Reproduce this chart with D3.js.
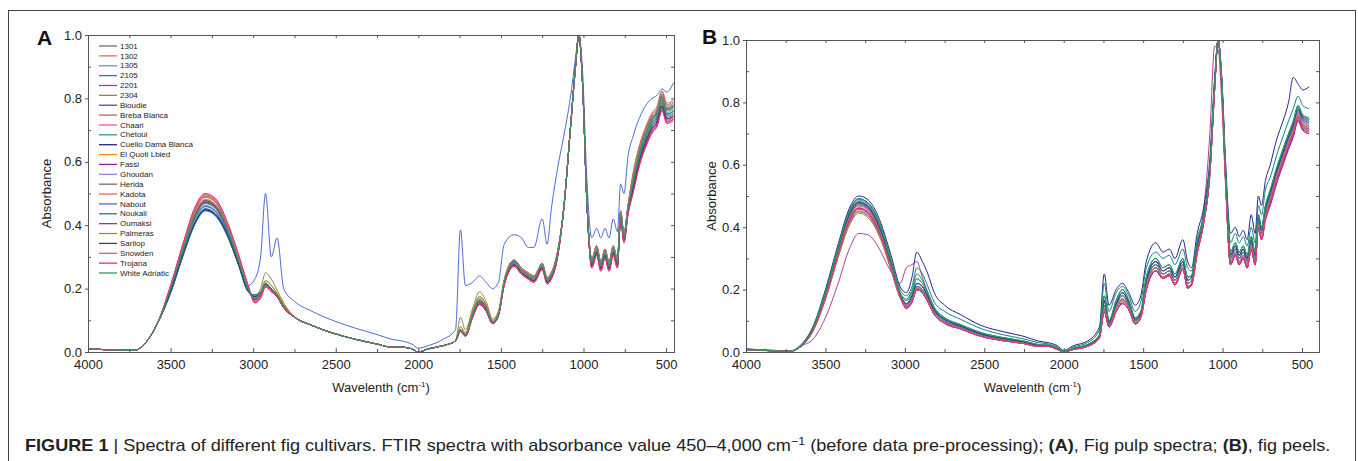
<!DOCTYPE html>
<html><head><meta charset="utf-8">
<script src="https://cdn.jsdelivr.net/npm/d3@7"></script>
<style>
body{margin:0;background:#fff;}
svg{display:block;font-family:"Liberation Sans",Arial,Helvetica,sans-serif;}
</style></head>
<body><svg id="chart" width="1358" height="461"></svg>
<script>
// ---------- DATA ----------
const wavenumbers = [4000,3720,3650,3580,3500,3420,3350,3290,3230,3160,3090,3030,2990,2955,2925,2890,2855,2815,2750,2650,2520,2380,2250,2160,2100,2040,2000,1940,1850,1775,1745,1715,1670,1630,1590,1550,1515,1480,1420,1375,1335,1300,1250,1220,1195,1160,1120,1080,1050,1028,1005,980,950,920,895,870,845,820,795,775,755,730,700,660,620,585,555,525,495,455];
const cultivars = ["1301","1302","1305","2105","2201","2304","Bioudie","Breba Blanca","Chaari","Chetoui","Cuello Dama Blanca","El Quoti Lbied","Fassi","Ghoudan","Herida","Kadota","Nabout","Noukali","Oumaksi","Palmeras","Sarilop","Snowden","Trojana","White Adriatic"];
const seriesColors = ["#6e6e6e","#f06464","#6f8fdc","#1f8a8a","#a8409a","#8c8a4e","#4c4c9c","#a86a6a","#ff4fb8","#2fa070","#22228f","#ff8a00","#8e2290","#9482e0","#6a6a6a","#ff6060","#4a6ad8","#138080","#a03586","#8a9440","#3c3c7c","#a87474","#f0287e","#27a05e"];
const wavenumberTicks = [4000,3500,3000,2500,2000,1500,1000,500];
const absorbanceTicks = [0.0,0.2,0.4,0.6,0.8,1.0];

// Panel A: fig pulp spectra
const pulp1301 = [0.01,0.005,0.03,0.09,0.195,0.32,0.42,0.46,0.445,0.38,0.285,0.195,0.17,0.185,0.215,0.20,0.18,0.145,0.11,0.085,0.06,0.04,0.025,0.015,0.015,0.01,0.0,0.01,0.02,0.035,0.07,0.055,0.12,0.16,0.14,0.095,0.12,0.22,0.285,0.26,0.245,0.235,0.275,0.23,0.245,0.305,0.45,0.70,0.89,1.0,0.84,0.48,0.285,0.325,0.275,0.315,0.275,0.325,0.285,0.435,0.365,0.455,0.54,0.63,0.69,0.73,0.75,0.80,0.76,0.77];
const pulp1302 = [0.01,0.005,0.03,0.09,0.207,0.347,0.452,0.492,0.477,0.407,0.302,0.206,0.16,0.175,0.21,0.195,0.18,0.145,0.11,0.085,0.06,0.04,0.025,0.015,0.015,0.01,0.0,0.01,0.02,0.035,0.07,0.055,0.13,0.17,0.15,0.095,0.12,0.225,0.29,0.265,0.25,0.24,0.28,0.235,0.25,0.31,0.45,0.70,0.89,1.0,0.84,0.48,0.295,0.335,0.285,0.325,0.285,0.335,0.295,0.445,0.375,0.465,0.565,0.655,0.715,0.755,0.775,0.825,0.785,0.795];
const pulp1305 = [0.01,0.005,0.03,0.09,0.193,0.318,0.418,0.458,0.443,0.378,0.283,0.194,0.17,0.185,0.215,0.20,0.18,0.145,0.11,0.085,0.06,0.04,0.025,0.015,0.015,0.01,0.0,0.01,0.02,0.035,0.07,0.055,0.12,0.16,0.14,0.095,0.12,0.22,0.285,0.26,0.245,0.235,0.275,0.23,0.245,0.305,0.45,0.70,0.89,1.0,0.84,0.48,0.285,0.325,0.275,0.315,0.275,0.325,0.285,0.435,0.365,0.455,0.535,0.625,0.685,0.725,0.745,0.795,0.755,0.765];
const pulp2105 = [0.01,0.005,0.03,0.09,0.188,0.313,0.408,0.448,0.433,0.373,0.279,0.194,0.175,0.185,0.21,0.195,0.175,0.14,0.11,0.085,0.06,0.04,0.025,0.015,0.015,0.01,0.0,0.01,0.02,0.035,0.065,0.05,0.115,0.15,0.13,0.09,0.115,0.215,0.275,0.25,0.235,0.225,0.265,0.22,0.235,0.295,0.45,0.70,0.89,1.0,0.84,0.48,0.275,0.315,0.265,0.305,0.265,0.315,0.275,0.425,0.355,0.445,0.525,0.615,0.675,0.715,0.735,0.785,0.745,0.755];
const pulp2201 = [0.01,0.005,0.03,0.09,0.20,0.335,0.435,0.475,0.46,0.395,0.29,0.20,0.165,0.18,0.21,0.195,0.175,0.14,0.11,0.085,0.06,0.04,0.025,0.015,0.015,0.01,0.0,0.01,0.02,0.035,0.07,0.055,0.115,0.155,0.135,0.09,0.115,0.215,0.275,0.25,0.235,0.225,0.265,0.22,0.235,0.295,0.45,0.70,0.89,1.0,0.84,0.48,0.27,0.31,0.26,0.30,0.26,0.31,0.27,0.42,0.35,0.44,0.51,0.60,0.66,0.70,0.72,0.77,0.73,0.74];
const pulp2304 = [0.01,0.005,0.03,0.09,0.198,0.333,0.438,0.478,0.463,0.398,0.293,0.20,0.175,0.20,0.25,0.23,0.195,0.155,0.11,0.085,0.06,0.04,0.025,0.015,0.015,0.01,0.0,0.01,0.02,0.035,0.11,0.07,0.14,0.19,0.16,0.105,0.13,0.23,0.29,0.26,0.245,0.235,0.275,0.23,0.245,0.305,0.45,0.70,0.89,1.0,0.84,0.48,0.29,0.33,0.28,0.32,0.28,0.33,0.29,0.44,0.37,0.46,0.55,0.64,0.70,0.74,0.76,0.81,0.77,0.78];
const pulpBioudie = [0.01,0.005,0.03,0.09,0.19,0.315,0.41,0.45,0.435,0.375,0.28,0.195,0.175,0.185,0.21,0.195,0.175,0.14,0.11,0.085,0.06,0.04,0.025,0.015,0.015,0.01,0.0,0.01,0.02,0.035,0.065,0.05,0.115,0.15,0.13,0.09,0.115,0.215,0.275,0.25,0.235,0.225,0.265,0.22,0.235,0.295,0.45,0.70,0.89,1.0,0.84,0.48,0.275,0.315,0.265,0.305,0.265,0.315,0.275,0.425,0.355,0.445,0.52,0.61,0.67,0.71,0.73,0.78,0.74,0.75];
const pulpBrebaBlanca = [0.01,0.005,0.03,0.09,0.203,0.343,0.448,0.488,0.473,0.403,0.299,0.204,0.16,0.175,0.21,0.195,0.18,0.145,0.11,0.085,0.06,0.04,0.025,0.015,0.015,0.01,0.0,0.01,0.02,0.035,0.07,0.055,0.125,0.165,0.145,0.095,0.12,0.225,0.29,0.265,0.25,0.24,0.28,0.235,0.25,0.31,0.45,0.70,0.89,1.0,0.84,0.48,0.295,0.335,0.285,0.325,0.285,0.335,0.295,0.445,0.375,0.465,0.555,0.645,0.705,0.745,0.765,0.815,0.775,0.785];
const pulpChaari = [0.01,0.005,0.03,0.09,0.205,0.345,0.455,0.495,0.48,0.41,0.305,0.205,0.158,0.172,0.207,0.192,0.176,0.141,0.11,0.085,0.06,0.04,0.025,0.015,0.015,0.01,0.0,0.01,0.02,0.035,0.065,0.05,0.11,0.15,0.13,0.09,0.115,0.21,0.27,0.245,0.23,0.22,0.26,0.215,0.23,0.29,0.45,0.70,0.89,1.0,0.84,0.48,0.265,0.305,0.255,0.295,0.255,0.305,0.265,0.415,0.345,0.435,0.505,0.595,0.655,0.695,0.715,0.765,0.725,0.735];
const pulpChetoui = [0.01,0.005,0.03,0.09,0.20,0.33,0.432,0.472,0.458,0.39,0.29,0.20,0.17,0.185,0.215,0.20,0.18,0.145,0.11,0.085,0.06,0.04,0.025,0.015,0.015,0.01,0.0,0.01,0.02,0.035,0.07,0.055,0.12,0.165,0.14,0.095,0.12,0.22,0.28,0.255,0.24,0.23,0.27,0.225,0.24,0.30,0.45,0.70,0.89,1.0,0.84,0.48,0.28,0.32,0.27,0.31,0.27,0.32,0.28,0.43,0.36,0.45,0.53,0.62,0.68,0.72,0.74,0.785,0.75,0.76];
const pulpCuelloDamaBlanca = [0.01,0.005,0.03,0.09,0.187,0.312,0.408,0.448,0.433,0.372,0.277,0.19,0.18,0.19,0.215,0.20,0.18,0.145,0.11,0.085,0.06,0.04,0.025,0.015,0.015,0.01,0.0,0.01,0.02,0.035,0.07,0.055,0.12,0.16,0.14,0.095,0.12,0.22,0.285,0.26,0.245,0.235,0.275,0.23,0.245,0.305,0.45,0.70,0.89,1.0,0.84,0.48,0.29,0.33,0.28,0.32,0.28,0.33,0.29,0.44,0.37,0.46,0.545,0.635,0.695,0.735,0.755,0.805,0.765,0.775];
const pulpElQuotiLbied = [0.01,0.005,0.03,0.09,0.202,0.337,0.442,0.482,0.467,0.402,0.297,0.20,0.17,0.19,0.225,0.21,0.185,0.15,0.11,0.085,0.06,0.04,0.025,0.015,0.015,0.01,0.0,0.01,0.02,0.035,0.08,0.06,0.13,0.175,0.15,0.10,0.125,0.225,0.29,0.26,0.245,0.235,0.275,0.23,0.245,0.305,0.45,0.70,0.89,1.0,0.84,0.48,0.29,0.33,0.28,0.32,0.28,0.33,0.29,0.44,0.37,0.46,0.545,0.635,0.695,0.735,0.755,0.805,0.765,0.775];
const pulpFassi = [0.01,0.005,0.03,0.09,0.198,0.333,0.433,0.473,0.458,0.393,0.289,0.20,0.165,0.18,0.21,0.195,0.175,0.14,0.11,0.085,0.06,0.04,0.025,0.015,0.015,0.01,0.0,0.01,0.02,0.035,0.07,0.055,0.115,0.155,0.135,0.09,0.115,0.215,0.275,0.25,0.235,0.225,0.265,0.22,0.235,0.295,0.45,0.70,0.89,1.0,0.84,0.48,0.27,0.31,0.26,0.30,0.26,0.31,0.27,0.42,0.35,0.44,0.515,0.605,0.665,0.705,0.725,0.775,0.735,0.745];
const pulpGhoudan = [0.01,0.005,0.03,0.09,0.197,0.322,0.422,0.462,0.447,0.382,0.286,0.196,0.17,0.185,0.215,0.20,0.18,0.145,0.11,0.085,0.06,0.04,0.025,0.015,0.015,0.01,0.0,0.01,0.02,0.035,0.07,0.055,0.12,0.16,0.14,0.095,0.12,0.22,0.285,0.26,0.245,0.235,0.275,0.23,0.245,0.305,0.45,0.70,0.89,1.0,0.84,0.48,0.285,0.325,0.275,0.315,0.275,0.325,0.285,0.435,0.365,0.455,0.545,0.635,0.695,0.735,0.755,0.805,0.765,0.775];
const pulpHerida = [0.01,0.005,0.03,0.09,0.20,0.33,0.43,0.47,0.455,0.39,0.29,0.20,0.17,0.185,0.215,0.20,0.18,0.145,0.11,0.085,0.06,0.04,0.025,0.015,0.015,0.01,0.0,0.01,0.02,0.035,0.07,0.055,0.12,0.16,0.14,0.095,0.12,0.22,0.28,0.255,0.24,0.23,0.27,0.225,0.24,0.30,0.45,0.70,0.89,1.0,0.84,0.48,0.28,0.32,0.27,0.31,0.27,0.32,0.28,0.43,0.36,0.45,0.53,0.62,0.68,0.72,0.74,0.79,0.75,0.76];
const pulpKadota = [0.01,0.005,0.03,0.09,0.21,0.348,0.458,0.497,0.483,0.413,0.308,0.21,0.155,0.17,0.205,0.19,0.175,0.14,0.11,0.085,0.06,0.04,0.025,0.015,0.015,0.01,0.0,0.01,0.02,0.035,0.065,0.05,0.115,0.155,0.135,0.09,0.115,0.21,0.27,0.245,0.23,0.22,0.26,0.215,0.23,0.29,0.45,0.70,0.89,1.0,0.84,0.48,0.27,0.31,0.26,0.30,0.26,0.31,0.27,0.42,0.35,0.44,0.51,0.60,0.66,0.70,0.72,0.77,0.73,0.74];
const pulpNabout = [0.01,0.005,0.03,0.09,0.20,0.33,0.425,0.46,0.445,0.385,0.29,0.21,0.23,0.30,0.50,0.30,0.36,0.20,0.16,0.13,0.10,0.075,0.055,0.04,0.035,0.025,0.012,0.02,0.04,0.07,0.385,0.21,0.22,0.24,0.22,0.20,0.22,0.34,0.37,0.36,0.33,0.33,0.42,0.34,0.45,0.57,0.68,0.80,0.92,1.0,0.88,0.55,0.36,0.39,0.36,0.39,0.36,0.42,0.38,0.53,0.50,0.62,0.68,0.74,0.78,0.80,0.81,0.83,0.82,0.85];
const pulpNoukali = [0.01,0.005,0.03,0.09,0.185,0.31,0.405,0.445,0.43,0.37,0.275,0.19,0.18,0.19,0.215,0.20,0.18,0.145,0.11,0.085,0.06,0.04,0.025,0.015,0.015,0.01,0.0,0.01,0.02,0.035,0.07,0.055,0.12,0.16,0.14,0.095,0.12,0.22,0.285,0.26,0.245,0.235,0.275,0.23,0.245,0.305,0.45,0.70,0.89,1.0,0.84,0.48,0.29,0.33,0.28,0.32,0.28,0.33,0.29,0.44,0.37,0.46,0.545,0.635,0.695,0.735,0.755,0.805,0.765,0.775];
const pulpOumaksi = [0.01,0.005,0.03,0.09,0.202,0.337,0.438,0.478,0.463,0.397,0.291,0.20,0.165,0.18,0.21,0.195,0.175,0.14,0.11,0.085,0.06,0.04,0.025,0.015,0.015,0.01,0.0,0.01,0.02,0.035,0.07,0.055,0.115,0.155,0.135,0.09,0.115,0.215,0.275,0.25,0.235,0.225,0.265,0.22,0.235,0.295,0.45,0.70,0.89,1.0,0.84,0.48,0.27,0.31,0.26,0.30,0.26,0.31,0.27,0.42,0.35,0.44,0.505,0.595,0.655,0.695,0.715,0.765,0.725,0.735];
const pulpPalmeras = [0.01,0.005,0.03,0.09,0.20,0.335,0.44,0.48,0.465,0.40,0.295,0.20,0.17,0.19,0.225,0.21,0.185,0.15,0.11,0.085,0.06,0.04,0.025,0.015,0.015,0.01,0.0,0.01,0.02,0.035,0.08,0.06,0.13,0.175,0.15,0.10,0.125,0.225,0.29,0.26,0.245,0.235,0.275,0.23,0.245,0.305,0.45,0.70,0.89,1.0,0.84,0.48,0.29,0.33,0.28,0.32,0.28,0.33,0.29,0.44,0.37,0.46,0.55,0.64,0.70,0.74,0.76,0.81,0.77,0.78];
const pulpSarilop = [0.01,0.005,0.03,0.09,0.192,0.317,0.412,0.452,0.437,0.377,0.281,0.195,0.175,0.185,0.21,0.195,0.175,0.14,0.11,0.085,0.06,0.04,0.025,0.015,0.015,0.01,0.0,0.01,0.02,0.035,0.065,0.05,0.115,0.15,0.13,0.09,0.115,0.215,0.275,0.25,0.235,0.225,0.265,0.22,0.235,0.295,0.45,0.70,0.89,1.0,0.84,0.48,0.275,0.315,0.265,0.305,0.265,0.315,0.275,0.425,0.355,0.445,0.515,0.605,0.665,0.705,0.725,0.775,0.735,0.745];
const pulpSnowden = [0.01,0.005,0.03,0.09,0.205,0.345,0.45,0.49,0.475,0.405,0.30,0.205,0.16,0.175,0.21,0.195,0.18,0.145,0.11,0.085,0.06,0.04,0.025,0.015,0.015,0.01,0.0,0.01,0.02,0.035,0.07,0.055,0.125,0.165,0.145,0.095,0.12,0.225,0.29,0.265,0.25,0.24,0.28,0.235,0.25,0.31,0.45,0.70,0.89,1.0,0.84,0.48,0.295,0.335,0.285,0.325,0.285,0.335,0.295,0.445,0.375,0.465,0.56,0.65,0.71,0.75,0.77,0.82,0.78,0.79];
const pulpTrojana = [0.01,0.005,0.03,0.09,0.21,0.35,0.46,0.50,0.485,0.415,0.31,0.21,0.155,0.17,0.205,0.19,0.175,0.14,0.11,0.085,0.06,0.04,0.025,0.015,0.015,0.01,0.0,0.01,0.02,0.035,0.065,0.05,0.11,0.15,0.13,0.09,0.115,0.21,0.27,0.245,0.23,0.22,0.26,0.215,0.23,0.29,0.45,0.70,0.89,1.0,0.84,0.48,0.265,0.305,0.255,0.295,0.255,0.305,0.265,0.415,0.345,0.435,0.50,0.59,0.65,0.69,0.71,0.76,0.72,0.73];
const pulpWhiteAdriatic = [0.01,0.005,0.03,0.09,0.20,0.33,0.428,0.468,0.453,0.39,0.29,0.20,0.17,0.185,0.218,0.20,0.18,0.145,0.11,0.085,0.06,0.04,0.025,0.015,0.015,0.01,0.0,0.01,0.02,0.035,0.07,0.055,0.12,0.16,0.14,0.095,0.12,0.22,0.28,0.255,0.24,0.23,0.27,0.225,0.24,0.30,0.45,0.70,0.89,1.0,0.84,0.48,0.28,0.32,0.27,0.31,0.27,0.32,0.28,0.43,0.36,0.45,0.53,0.62,0.68,0.725,0.745,0.795,0.75,0.76];

// Panel B: fig peel spectra
const peel1301 = [0.008,0.003,0.02,0.072,0.183,0.326,0.438,0.478,0.463,0.398,0.286,0.184,0.155,0.18,0.22,0.21,0.178,0.135,0.105,0.084,0.058,0.043,0.032,0.022,0.021,0.011,0.0,0.011,0.022,0.052,0.165,0.095,0.155,0.19,0.158,0.105,0.125,0.23,0.29,0.26,0.27,0.24,0.29,0.23,0.24,0.34,0.425,0.585,0.855,1.0,0.865,0.56,0.31,0.34,0.31,0.33,0.30,0.36,0.31,0.43,0.39,0.46,0.505,0.575,0.635,0.685,0.725,0.775,0.745,0.735];
const peel1302 = [0.008,0.003,0.02,0.07,0.182,0.322,0.432,0.472,0.457,0.392,0.282,0.18,0.145,0.165,0.205,0.195,0.165,0.125,0.095,0.076,0.052,0.038,0.028,0.019,0.019,0.009,0.0,0.009,0.019,0.048,0.14,0.085,0.14,0.17,0.142,0.095,0.115,0.21,0.27,0.24,0.25,0.22,0.27,0.21,0.22,0.32,0.415,0.575,0.845,1.0,0.855,0.54,0.29,0.32,0.29,0.31,0.28,0.34,0.29,0.41,0.37,0.44,0.495,0.565,0.625,0.675,0.715,0.765,0.735,0.725];
const peel1305 = [0.008,0.003,0.02,0.07,0.18,0.322,0.432,0.472,0.457,0.392,0.282,0.18,0.15,0.17,0.21,0.20,0.17,0.13,0.10,0.08,0.055,0.04,0.03,0.02,0.02,0.01,0.0,0.01,0.02,0.05,0.16,0.09,0.15,0.18,0.15,0.10,0.12,0.22,0.28,0.25,0.26,0.23,0.28,0.22,0.23,0.33,0.42,0.58,0.85,1.0,0.86,0.55,0.30,0.33,0.30,0.32,0.29,0.35,0.30,0.42,0.38,0.45,0.495,0.565,0.625,0.675,0.715,0.765,0.735,0.725];
const peel2105 = [0.008,0.003,0.02,0.075,0.192,0.338,0.452,0.492,0.477,0.412,0.297,0.19,0.17,0.20,0.25,0.23,0.19,0.145,0.11,0.088,0.062,0.046,0.035,0.024,0.022,0.013,0.0,0.012,0.024,0.055,0.18,0.10,0.165,0.20,0.165,0.11,0.13,0.24,0.30,0.27,0.28,0.25,0.30,0.24,0.245,0.35,0.43,0.59,0.86,1.0,0.87,0.57,0.32,0.35,0.32,0.34,0.31,0.37,0.32,0.44,0.40,0.47,0.52,0.59,0.65,0.70,0.74,0.79,0.76,0.75];
const peel2201 = [0.006,0.003,0.02,0.04,0.11,0.22,0.33,0.38,0.375,0.33,0.26,0.22,0.27,0.28,0.29,0.24,0.19,0.14,0.10,0.08,0.055,0.04,0.03,0.02,0.02,0.01,0.0,0.01,0.02,0.045,0.13,0.08,0.13,0.16,0.14,0.09,0.11,0.20,0.26,0.235,0.245,0.215,0.265,0.205,0.22,0.33,0.45,0.70,0.98,0.97,0.80,0.52,0.28,0.31,0.28,0.30,0.27,0.33,0.28,0.40,0.36,0.42,0.47,0.54,0.60,0.65,0.69,0.74,0.71,0.70];
const peel2304 = [0.008,0.003,0.02,0.066,0.172,0.307,0.412,0.452,0.437,0.377,0.272,0.176,0.145,0.165,0.20,0.19,0.162,0.122,0.094,0.075,0.051,0.037,0.028,0.019,0.019,0.009,0.0,0.009,0.019,0.047,0.14,0.085,0.145,0.17,0.142,0.093,0.113,0.21,0.27,0.24,0.25,0.22,0.27,0.21,0.22,0.32,0.415,0.575,0.845,1.0,0.855,0.54,0.285,0.315,0.285,0.305,0.275,0.335,0.285,0.405,0.365,0.435,0.49,0.56,0.62,0.67,0.71,0.76,0.73,0.72];
const peelBioudie = [0.008,0.003,0.02,0.072,0.187,0.33,0.442,0.482,0.467,0.402,0.29,0.186,0.155,0.18,0.22,0.21,0.178,0.135,0.105,0.084,0.058,0.043,0.032,0.022,0.021,0.011,0.0,0.011,0.022,0.052,0.165,0.095,0.155,0.19,0.158,0.105,0.125,0.23,0.29,0.26,0.27,0.24,0.29,0.23,0.24,0.34,0.425,0.585,0.855,1.0,0.865,0.56,0.31,0.34,0.31,0.33,0.30,0.36,0.31,0.43,0.39,0.46,0.515,0.585,0.645,0.695,0.735,0.785,0.755,0.745];
const peelBrebaBlanca = [0.008,0.003,0.02,0.065,0.168,0.303,0.405,0.445,0.43,0.37,0.267,0.173,0.145,0.165,0.20,0.19,0.162,0.122,0.094,0.075,0.051,0.037,0.028,0.019,0.019,0.009,0.0,0.009,0.019,0.047,0.14,0.085,0.14,0.165,0.14,0.093,0.113,0.21,0.27,0.24,0.25,0.22,0.27,0.21,0.22,0.32,0.415,0.575,0.845,1.0,0.855,0.54,0.285,0.315,0.285,0.305,0.275,0.335,0.285,0.405,0.365,0.435,0.48,0.55,0.61,0.66,0.70,0.75,0.72,0.71];
const peelChaari = [0.008,0.003,0.02,0.068,0.177,0.314,0.423,0.463,0.448,0.384,0.277,0.179,0.14,0.16,0.20,0.19,0.16,0.12,0.092,0.074,0.05,0.036,0.027,0.018,0.018,0.008,0.0,0.008,0.018,0.046,0.13,0.08,0.13,0.155,0.135,0.09,0.11,0.20,0.26,0.235,0.245,0.215,0.265,0.205,0.215,0.315,0.41,0.57,0.84,1.0,0.85,0.535,0.28,0.31,0.28,0.30,0.27,0.33,0.28,0.40,0.36,0.43,0.485,0.555,0.615,0.665,0.705,0.755,0.725,0.715];
const peelChetoui = [0.008,0.003,0.02,0.075,0.188,0.333,0.447,0.487,0.472,0.407,0.293,0.189,0.165,0.19,0.235,0.22,0.185,0.14,0.11,0.088,0.062,0.046,0.035,0.024,0.022,0.013,0.0,0.012,0.024,0.055,0.18,0.10,0.165,0.20,0.165,0.11,0.13,0.24,0.30,0.27,0.28,0.25,0.30,0.24,0.245,0.35,0.43,0.59,0.86,1.0,0.87,0.57,0.32,0.35,0.32,0.34,0.31,0.37,0.32,0.44,0.40,0.47,0.515,0.585,0.645,0.695,0.735,0.785,0.755,0.745];
const peelCuelloDamaBlanca = [0.01,0.004,0.025,0.08,0.20,0.345,0.46,0.50,0.487,0.425,0.315,0.21,0.19,0.24,0.32,0.29,0.25,0.19,0.15,0.12,0.085,0.065,0.05,0.035,0.03,0.02,0.005,0.02,0.035,0.08,0.25,0.15,0.20,0.22,0.19,0.15,0.18,0.29,0.35,0.32,0.33,0.30,0.36,0.29,0.27,0.38,0.46,0.62,0.88,1.0,0.88,0.60,0.38,0.40,0.37,0.39,0.36,0.44,0.38,0.50,0.47,0.55,0.60,0.68,0.74,0.80,0.88,0.86,0.84,0.85];
const peelElQuotiLbied = [0.008,0.003,0.02,0.066,0.17,0.305,0.41,0.45,0.435,0.375,0.27,0.175,0.145,0.165,0.20,0.19,0.162,0.122,0.094,0.075,0.051,0.037,0.028,0.019,0.019,0.009,0.0,0.009,0.019,0.047,0.135,0.085,0.14,0.165,0.14,0.093,0.113,0.21,0.27,0.24,0.25,0.22,0.27,0.21,0.22,0.32,0.415,0.575,0.845,1.0,0.855,0.54,0.285,0.315,0.285,0.305,0.275,0.335,0.285,0.405,0.365,0.435,0.485,0.555,0.615,0.665,0.705,0.755,0.725,0.715];
const peelFassi = [0.008,0.003,0.02,0.068,0.173,0.31,0.418,0.458,0.443,0.38,0.273,0.177,0.14,0.16,0.20,0.19,0.16,0.12,0.092,0.074,0.05,0.036,0.027,0.018,0.018,0.008,0.0,0.008,0.018,0.046,0.13,0.08,0.13,0.155,0.135,0.09,0.11,0.20,0.26,0.235,0.245,0.215,0.265,0.205,0.215,0.315,0.41,0.57,0.84,1.0,0.85,0.535,0.28,0.31,0.28,0.30,0.27,0.33,0.28,0.40,0.36,0.43,0.475,0.545,0.605,0.655,0.695,0.745,0.715,0.705];
const peelGhoudan = [0.008,0.003,0.02,0.066,0.171,0.306,0.411,0.451,0.436,0.376,0.271,0.175,0.145,0.165,0.20,0.19,0.162,0.122,0.094,0.075,0.051,0.037,0.028,0.019,0.019,0.009,0.0,0.009,0.019,0.047,0.14,0.085,0.14,0.165,0.14,0.093,0.113,0.21,0.27,0.24,0.25,0.22,0.27,0.21,0.22,0.32,0.415,0.575,0.845,1.0,0.855,0.54,0.285,0.315,0.285,0.305,0.275,0.335,0.285,0.405,0.365,0.435,0.49,0.56,0.62,0.67,0.71,0.76,0.73,0.72];
const peelHerida = [0.008,0.003,0.02,0.07,0.182,0.324,0.435,0.475,0.46,0.395,0.284,0.182,0.15,0.17,0.21,0.20,0.17,0.13,0.10,0.08,0.055,0.04,0.03,0.02,0.02,0.01,0.0,0.01,0.02,0.05,0.15,0.09,0.15,0.18,0.15,0.10,0.12,0.22,0.28,0.25,0.26,0.23,0.28,0.22,0.23,0.33,0.42,0.58,0.85,1.0,0.86,0.55,0.30,0.33,0.30,0.32,0.29,0.35,0.30,0.42,0.38,0.45,0.50,0.57,0.63,0.68,0.72,0.77,0.74,0.73];
const peelKadota = [0.008,0.003,0.02,0.07,0.18,0.32,0.43,0.47,0.455,0.39,0.28,0.18,0.145,0.165,0.205,0.195,0.165,0.125,0.095,0.076,0.052,0.038,0.028,0.019,0.019,0.009,0.0,0.009,0.019,0.048,0.14,0.085,0.14,0.17,0.142,0.095,0.115,0.21,0.27,0.24,0.25,0.22,0.27,0.21,0.22,0.32,0.415,0.575,0.845,1.0,0.855,0.54,0.29,0.32,0.29,0.31,0.28,0.34,0.29,0.41,0.37,0.44,0.49,0.56,0.62,0.67,0.71,0.76,0.73,0.72];
const peelNabout = [0.008,0.003,0.02,0.07,0.184,0.326,0.437,0.478,0.462,0.397,0.286,0.183,0.15,0.17,0.21,0.20,0.17,0.13,0.10,0.08,0.055,0.04,0.03,0.02,0.02,0.01,0.0,0.01,0.02,0.05,0.15,0.09,0.15,0.18,0.15,0.10,0.12,0.22,0.28,0.25,0.26,0.23,0.28,0.22,0.23,0.33,0.42,0.58,0.85,1.0,0.86,0.55,0.30,0.33,0.30,0.32,0.29,0.35,0.30,0.42,0.38,0.45,0.505,0.575,0.635,0.685,0.725,0.775,0.745,0.735];
const peelNoukali = [0.01,0.004,0.022,0.078,0.195,0.34,0.452,0.49,0.478,0.415,0.305,0.20,0.18,0.21,0.27,0.25,0.21,0.16,0.13,0.105,0.075,0.055,0.042,0.03,0.026,0.016,0.003,0.016,0.03,0.07,0.22,0.13,0.19,0.21,0.18,0.13,0.16,0.27,0.32,0.30,0.31,0.28,0.33,0.27,0.26,0.36,0.44,0.60,0.87,1.0,0.87,0.58,0.35,0.38,0.35,0.37,0.34,0.40,0.35,0.47,0.44,0.52,0.56,0.63,0.69,0.74,0.78,0.82,0.79,0.78];
const peelOumaksi = [0.008,0.003,0.02,0.068,0.176,0.313,0.421,0.461,0.446,0.383,0.276,0.178,0.14,0.16,0.20,0.19,0.16,0.12,0.092,0.074,0.05,0.036,0.027,0.018,0.018,0.008,0.0,0.008,0.018,0.046,0.13,0.08,0.13,0.155,0.135,0.09,0.11,0.20,0.26,0.235,0.245,0.215,0.265,0.205,0.215,0.315,0.41,0.57,0.84,1.0,0.85,0.535,0.28,0.31,0.28,0.30,0.27,0.33,0.28,0.40,0.36,0.43,0.47,0.54,0.60,0.65,0.69,0.74,0.71,0.70];
const peelPalmeras = [0.008,0.003,0.02,0.066,0.17,0.305,0.41,0.45,0.435,0.375,0.27,0.175,0.145,0.165,0.20,0.19,0.162,0.122,0.094,0.075,0.051,0.037,0.028,0.019,0.019,0.009,0.0,0.009,0.019,0.047,0.14,0.085,0.14,0.165,0.14,0.093,0.113,0.21,0.27,0.24,0.25,0.22,0.27,0.21,0.22,0.32,0.415,0.575,0.845,1.0,0.855,0.54,0.285,0.315,0.285,0.305,0.275,0.335,0.285,0.405,0.365,0.435,0.485,0.555,0.615,0.665,0.705,0.755,0.725,0.715];
const peelSarilop = [0.008,0.003,0.02,0.072,0.185,0.328,0.44,0.48,0.465,0.40,0.288,0.185,0.155,0.18,0.22,0.21,0.178,0.135,0.105,0.084,0.058,0.043,0.032,0.022,0.021,0.011,0.0,0.011,0.022,0.052,0.165,0.095,0.155,0.19,0.158,0.105,0.125,0.23,0.29,0.26,0.27,0.24,0.29,0.23,0.24,0.34,0.425,0.585,0.855,1.0,0.865,0.56,0.31,0.34,0.31,0.33,0.30,0.36,0.31,0.43,0.39,0.46,0.51,0.58,0.64,0.69,0.73,0.78,0.75,0.74];
const peelSnowden = [0.008,0.003,0.02,0.07,0.179,0.319,0.428,0.468,0.453,0.389,0.279,0.18,0.145,0.165,0.205,0.195,0.165,0.125,0.095,0.076,0.052,0.038,0.028,0.019,0.019,0.009,0.0,0.009,0.019,0.048,0.14,0.085,0.14,0.17,0.142,0.095,0.115,0.21,0.27,0.24,0.25,0.22,0.27,0.21,0.22,0.32,0.415,0.575,0.845,1.0,0.855,0.54,0.29,0.32,0.29,0.31,0.28,0.34,0.29,0.41,0.37,0.44,0.485,0.555,0.615,0.665,0.705,0.755,0.725,0.715];
const peelTrojana = [0.008,0.003,0.02,0.068,0.175,0.312,0.42,0.46,0.445,0.382,0.275,0.178,0.14,0.16,0.20,0.19,0.16,0.12,0.092,0.074,0.05,0.036,0.027,0.018,0.018,0.008,0.0,0.008,0.018,0.046,0.13,0.08,0.13,0.155,0.135,0.09,0.11,0.20,0.26,0.235,0.245,0.215,0.265,0.205,0.215,0.315,0.41,0.57,0.84,1.0,0.85,0.535,0.28,0.31,0.28,0.30,0.27,0.33,0.28,0.40,0.36,0.43,0.48,0.55,0.61,0.66,0.70,0.75,0.72,0.71];
const peelWhiteAdriatic = [0.008,0.003,0.02,0.075,0.19,0.335,0.45,0.49,0.475,0.41,0.295,0.19,0.165,0.19,0.235,0.22,0.185,0.14,0.11,0.088,0.062,0.046,0.035,0.024,0.022,0.013,0.0,0.012,0.024,0.055,0.18,0.10,0.165,0.20,0.165,0.11,0.13,0.24,0.30,0.27,0.28,0.25,0.30,0.24,0.245,0.35,0.43,0.59,0.86,1.0,0.87,0.57,0.32,0.35,0.32,0.34,0.31,0.37,0.32,0.44,0.40,0.47,0.52,0.59,0.65,0.70,0.74,0.79,0.76,0.75];

const pulpValues = [pulp1301,pulp1302,pulp1305,pulp2105,pulp2201,pulp2304,pulpBioudie,pulpBrebaBlanca,pulpChaari,pulpChetoui,pulpCuelloDamaBlanca,pulpElQuotiLbied,pulpFassi,pulpGhoudan,pulpHerida,pulpKadota,pulpNabout,pulpNoukali,pulpOumaksi,pulpPalmeras,pulpSarilop,pulpSnowden,pulpTrojana,pulpWhiteAdriatic];
const peelValues = [peel1301,peel1302,peel1305,peel2105,peel2201,peel2304,peelBioudie,peelBrebaBlanca,peelChaari,peelChetoui,peelCuelloDamaBlanca,peelElQuotiLbied,peelFassi,peelGhoudan,peelHerida,peelKadota,peelNabout,peelNoukali,peelOumaksi,peelPalmeras,peelSarilop,peelSnowden,peelTrojana,peelWhiteAdriatic];

// ---------- DRAWING ----------
const svg = d3.select("#chart");
const AX = "#555", TXT = "#222";

svg.append("rect").attr("x",8.5).attr("y",10.5).attr("width",1347).attr("height",470)
  .attr("fill","none").attr("stroke","#444").attr("stroke-width",1);

const panels = [
  {key:"A", letterX:37, letterY:45, left:88, right:674, top:35, bottom:352, domain:[4000,452], values:pulpValues, ytitleX:51, legend:true},
  {key:"B", letterX:702, letterY:44, left:746, right:1319, top:40, bottom:352, domain:[4000,393], values:peelValues, ytitleX:716, legend:false}
];

function styleAxis(g){
  g.select(".domain").remove();
  g.selectAll("line").attr("stroke",AX);
  g.selectAll("text").attr("fill",TXT).attr("font-size",13).attr("font-family","Liberation Sans, Arial, sans-serif");
}

panels.forEach(p => {
  const x = d3.scaleLinear().domain(p.domain).range([p.left,p.right]);
  const y = d3.scaleLinear().domain([0,1]).range([p.bottom,p.top]);
  const minorX = d3.range(4000, 400, -250).filter(v => v >= p.domain[1] && !wavenumberTicks.includes(v));
  const allX = d3.range(4000, 400, -250).filter(v => v >= p.domain[1]);
  const minorY = [0.1,0.3,0.5,0.7,0.9];
  const allY = d3.range(0,11).map(i => i/10);

  const clipId = "clip" + p.key;
  svg.append("clipPath").attr("id",clipId).append("rect")
    .attr("x",p.left).attr("y",p.top-1).attr("width",p.right-p.left).attr("height",p.bottom-p.top+1);

  const line = d3.line().x((d,i) => x(wavenumbers[i])).y(d => y(d)).curve(d3.curveMonotoneX);
  const series = p.values.map((v,i) => ({name:cultivars[i], color:seriesColors[i], values:v}));
  svg.append("g").attr("clip-path",`url(#${clipId})`)
    .selectAll("path").data(series).join("path")
    .attr("d", d => line(d.values))
    .attr("fill","none").attr("stroke", d => d.color).attr("stroke-width",1);

  // axes
  svg.append("g").attr("transform",`translate(0,${p.bottom})`)
    .call(d3.axisBottom(x).tickValues(wavenumberTicks).tickSizeInner(-4).tickSizeOuter(0).tickPadding(8).tickFormat(d3.format("d")))
    .call(styleAxis);
  svg.append("g").attr("transform",`translate(0,${p.bottom})`)
    .call(d3.axisBottom(x).tickValues(minorX).tickSizeInner(-3).tickSizeOuter(0).tickFormat(""))
    .call(styleAxis);
  svg.append("g").attr("transform",`translate(0,${p.top})`)
    .call(d3.axisTop(x).tickValues(allX).tickSizeInner(-3).tickSizeOuter(0).tickFormat(""))
    .call(styleAxis);
  svg.append("g").attr("transform",`translate(${p.left},0)`)
    .call(d3.axisLeft(y).tickValues(absorbanceTicks).tickSizeInner(3).tickSizeOuter(0).tickPadding(3).tickFormat(d3.format(".1f")))
    .call(styleAxis);
  svg.append("g").attr("transform",`translate(${p.left},0)`)
    .call(d3.axisLeft(y).tickValues(minorY).tickSizeInner(-3).tickSizeOuter(0).tickFormat(""))
    .call(styleAxis);
  svg.append("g").attr("transform",`translate(${p.right},0)`)
    .call(d3.axisRight(y).tickValues(allY).tickSizeInner(-3).tickSizeOuter(0).tickFormat(""))
    .call(styleAxis);

  // frame of the plot
  svg.append("rect").attr("x",p.left+0.5).attr("y",p.top+0.5)
    .attr("width",p.right-p.left).attr("height",p.bottom-p.top)
    .attr("fill","none").attr("stroke",AX).attr("stroke-width",1);

  // panel letter
  svg.append("text").attr("x",p.letterX).attr("y",p.letterY)
    .attr("font-size",21).attr("font-weight","bold").attr("fill","#111").text(p.key);

  // axis titles
  svg.append("text").attr("transform",`translate(${p.ytitleX},${(p.top+p.bottom)/2}) rotate(-90)`)
    .attr("text-anchor","middle").attr("font-size",13).attr("fill",TXT).text("Absorbance");
  const xt = svg.append("text").attr("x",(p.left+p.right)/2).attr("y",392)
    .attr("text-anchor","middle").attr("font-size",13).attr("fill",TXT);
  xt.append("tspan").text("Wavelenth (cm");
  xt.append("tspan").attr("font-size",8).attr("dy",-5).text("-1");
  xt.append("tspan").attr("dy",5).text(")");

  if (p.legend) {
    const lg = svg.append("g");
    series.forEach((s,i) => {
      const yy = 46 + i*9.87;
      lg.append("line").attr("x1",99).attr("x2",117).attr("y1",yy).attr("y2",yy)
        .attr("stroke",s.color).attr("stroke-width",1.3);
      lg.append("text").attr("x",120).attr("y",yy).attr("dy","0.33em")
        .attr("font-size",8).attr("fill",TXT).text(s.name);
    });
  }
});

// caption
const cap = svg.append("text").attr("x",0).attr("y",0).attr("font-size",16).attr("fill","#222");
cap.append("tspan").attr("font-weight","bold").text("FIGURE 1");
cap.append("tspan").text(" | Spectra of different fig cultivars. FTIR spectra with absorbance value 450–4,000 cm");
cap.append("tspan").attr("font-size",11).attr("dy",-6).text("−1");
cap.append("tspan").attr("dy",6).text(" (before data pre-processing); ");
cap.append("tspan").attr("font-weight","bold").text("(A)");
cap.append("tspan").text(", Fig pulp spectra; ");
cap.append("tspan").attr("font-weight","bold").text("(B)");
cap.append("tspan").text(", fig peels.");
const cw = cap.node().getBBox().width;
cap.attr("transform",`translate(25,451) scale(${1306/cw},1)`);
</script>
</body></html>
